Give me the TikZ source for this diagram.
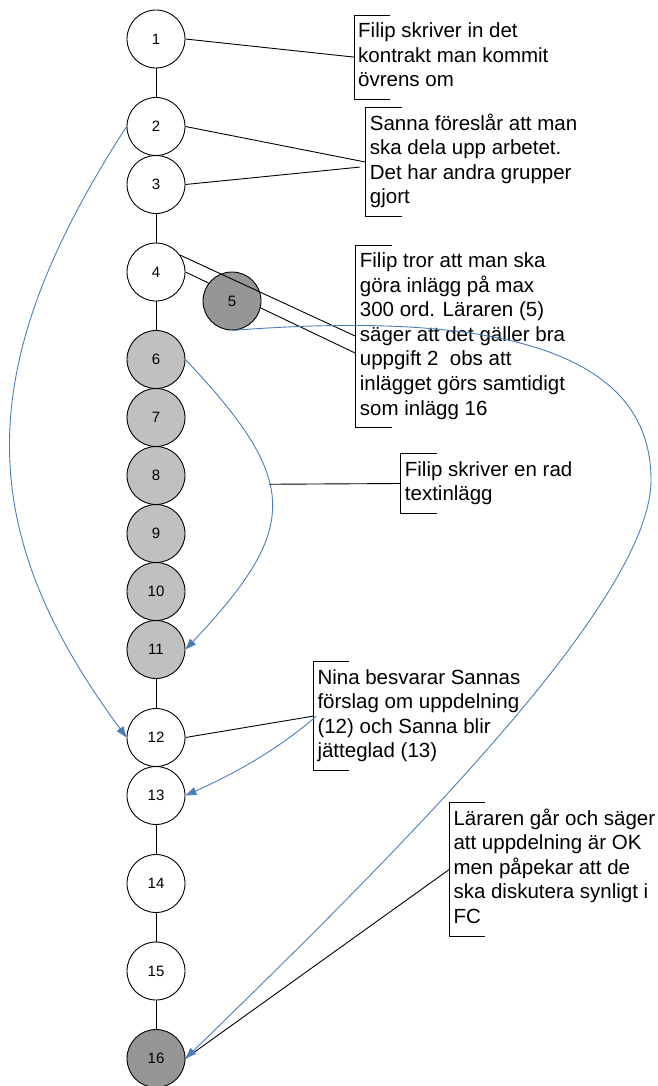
\documentclass[tikz,border=0pt]{standalone}
\usepackage{fontspec}
\setmainfont{Liberation Sans}
\usetikzlibrary{arrows.meta}
\definecolor{lgrey}{RGB}{192,192,192}
\definecolor{dgrey}{RGB}{150,150,150}
\definecolor{conblue}{RGB}{74,126,187}
\tikzset{
  post/.style={circle, draw, line width=0.9pt, minimum size=58pt, inner sep=0pt,
    font=\fontsize{15}{18}\selectfont, fill=white},
  postl/.style={post, fill=lgrey},
  postd/.style={post, fill=dgrey},
  tbox/.style={anchor=north west, align=left, inner xsep=4pt, inner ysep=5pt,
    font=\fontsize{20.5}{24.6}\selectfont},
  link/.style={line width=0.9pt},
  bluelink/.style={line width=0.9pt, draw=conblue, -{Triangle[length=11pt,width=8pt]}},
}
\newcommand\bracketof[1]{\draw[link] ([xshift=36pt]#1.north west) -- (#1.north west) -- (#1.south west) -- ([xshift=36pt]#1.south west);}
\begin{document}
\begin{tikzpicture}[x=1pt,y=-1pt]
\fill[white] (0,0) rectangle (658,1086);
\useasboundingbox (0,0) rectangle (658,1086);

% posts
\node[post] (n1) at (156,39) {1};
\node[post] (n2) at (156,126.5) {2};
\node[post] (n3) at (156,184.5) {3};
\node[post] (n4) at (156,272) {4};

% text boxes
\node[tbox] (b1) at (354,15) {\strut Filip skriver in det\\\strut kontrakt man kommit\\\strut övrens om};
\node[tbox] (b2) at (365.7,107.7) {\strut Sanna föreslår att man\\\strut ska dela upp arbetet.\\\strut Det har andra grupper\\\strut gjort};
\node[tbox] (b3) at (355.7,245) {\strut Filip tror att man ska\\\strut göra inlägg på max\\\strut 300 ord. Läraren (5)\\\strut säger att det gäller bra\\\strut uppgift 2\ \ obs att\\\strut inlägget görs samtidigt\\\strut som inlägg 16};
\node[tbox] (b4) at (400.7,453.7) {\strut Filip skriver en rad\\\strut textinlägg};
\node[tbox] (b5) at (313.3,661.7) {\strut Nina besvarar Sannas\\\strut förslag om uppdelning\\\strut (12) och Sanna blir\\\strut jätteglad (13)};
\node[tbox] (b6) at (449.3,802.7) {\strut Läraren går och säger\\\strut att uppdelning är OK\\\strut men påpekar att de\\\strut ska diskutera synligt i\\\strut FC};
\bracketof{b1}
\bracketof{b2}
\bracketof{b3}
\bracketof{b4}
\bracketof{b5}
\bracketof{b6}

% line hidden behind post 5
\draw[link] (n4.east) -- ([yshift=-17pt]b3.west);

\node[postd] (n5) at (232,301) {5};
\node[postl] (n6) at (156,359.5) {6};
\node[postl] (n7) at (156,417.5) {7};
\node[postl] (n8) at (156,475.5) {8};
\node[postl] (n9) at (156,533.5) {9};
\node[postl] (n10) at (156,591.5) {10};
\node[postl] (n11) at (156,649.5) {11};
\node[post] (n12) at (156,737.5) {12};
\node[post] (n13) at (156,795.5) {13};
\node[post] (n14) at (156,883.5) {14};
\node[post] (n15) at (156,971) {15};
\node[postd] (n16) at (156,1058.5) {16};

% thread lines
\draw[link] (n1) -- (n2);
\draw[link] (n3) -- (n4);
\draw[link] (n4) -- (n6);
\draw[link] (n11) -- (n12);
\draw[link] (n13) -- (n14);
\draw[link] (n14) -- (n15);
\draw[link] (n15) -- (n16);

% comment connectors
\draw[link] (n1.east) -- (b1.west);
\draw[link] (n2.east) -- (b2.west);
\draw[link] (n3.east) -- ([xshift=-6pt,yshift=-5pt]b2.west);
\draw[link] (n4.35) -- (b3.west);
\draw[link] (n12.east) -- (b5.west);
\draw[link] (b6.west) -- (n16.east);

% blue reply arrows
\draw[bluelink] (n2.west) .. controls +(-155,240) and +(-155,-210) .. (n12.west);
\draw[bluelink] (n6.east) .. controls +(115,122) and +(115,-122) .. coordinate[pos=0.42] (m2) (n11.east);
\draw[link] (m2) -- (b4.west);
\draw[bluelink] ([xshift=3pt]b5.west) .. controls +(-40,35) and +(45,-20) .. (n13.east);
\coordinate (k5) at (651,480);
\draw[bluelink] (n5.south) .. controls (560,305) and (651,380) .. (k5) .. controls (651,600) and (400,850) .. (n16.east);
\end{tikzpicture}
\end{document}
